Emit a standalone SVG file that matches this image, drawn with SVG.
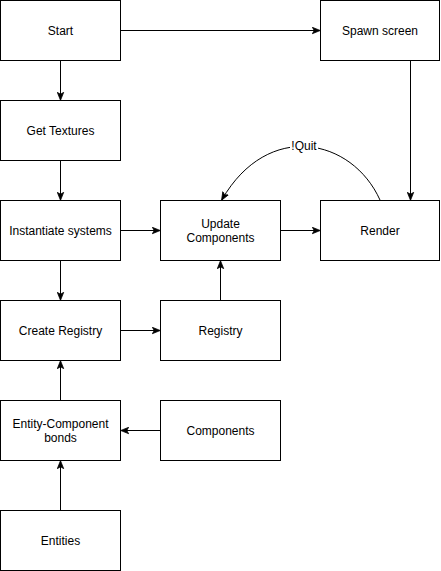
<svg xmlns="http://www.w3.org/2000/svg" width="441" height="571" viewBox="0 0 441 571">
<style>
.n rect{fill:#fff;stroke:#000;stroke-width:1}
.n text,.lbl{font-family:"Liberation Sans",Arial,Helvetica,sans-serif;font-size:12px;fill:#000;text-anchor:middle}
.e path{fill:none;stroke:#000;stroke-width:1;marker-end:url(#a)}
</style>
<defs>
<marker id="a" viewBox="0 0 10 10" refX="9" refY="5" markerWidth="8" markerHeight="8" markerUnits="userSpaceOnUse" orient="auto">
<path d="M0,1 L10,5 L0,9 L2.5,5 Z" fill="#000" stroke="#000" stroke-width="1"/>
</marker>
</defs>
<rect width="441" height="571" fill="#fff"/>
<g class="e" id="connectors">
<path d="M120.5,30.5 H319.5"/>
<path d="M60.5,60.5 V99.5"/>
<path d="M60.5,160.5 V199.5"/>
<path d="M120.5,230.5 H159.5"/>
<path d="M60.5,260.5 V299.5"/>
<path d="M280.5,230.5 H319.5"/>
<path d="M410.5,60.5 V199.5"/>
<path d="M120.5,330.5 H159.5"/>
<path d="M220.5,300.5 V261.5"/>
<path d="M160.5,430.5 H121.5"/>
<path d="M60.5,510.5 V461.5"/>
<path d="M60.5,400.5 V361.5"/>
<path d="M380,200 C352,138 268,120 222,199.5"/>
</g>
<rect x="290" y="139" width="28" height="14" fill="#fff"/>
<text class="lbl" x="304" y="150">!Quit</text>
<g class="n" id="start"><rect x="0.5" y="0.5" width="120" height="60"/><text x="60.5" y="34.5">Start</text></g>
<g class="n" id="spawn"><rect x="320.5" y="0.5" width="119" height="60"/><text x="380" y="34.5">Spawn screen</text></g>
<g class="n" id="textures"><rect x="0.5" y="100.5" width="120" height="60"/><text x="60.5" y="134.5">Get Textures</text></g>
<g class="n" id="instantiate"><rect x="0.5" y="200.5" width="120" height="60"/><text x="60.5" y="234.5">Instantiate systems</text></g>
<g class="n" id="update"><rect x="160.5" y="200.5" width="120" height="60"/><text x="220.5" y="227.5">Update</text><text x="220.5" y="241.5">Components</text></g>
<g class="n" id="render"><rect x="320.5" y="200.5" width="119" height="60"/><text x="380" y="234.5">Render</text></g>
<g class="n" id="createreg"><rect x="0.5" y="300.5" width="120" height="60"/><text x="60.5" y="334.5">Create Registry</text></g>
<g class="n" id="registry"><rect x="160.5" y="300.5" width="120" height="60"/><text x="220.5" y="334.5">Registry</text></g>
<g class="n" id="ecbonds"><rect x="0.5" y="400.5" width="120" height="60"/><text x="60.5" y="427.5">Entity-Component</text><text x="60.5" y="441.5">bonds</text></g>
<g class="n" id="components"><rect x="160.5" y="400.5" width="120" height="60"/><text x="220.5" y="434.5">Components</text></g>
<g class="n" id="entities"><rect x="0.5" y="510.5" width="120" height="60"/><text x="60.5" y="544.5">Entities</text></g>
</svg>
